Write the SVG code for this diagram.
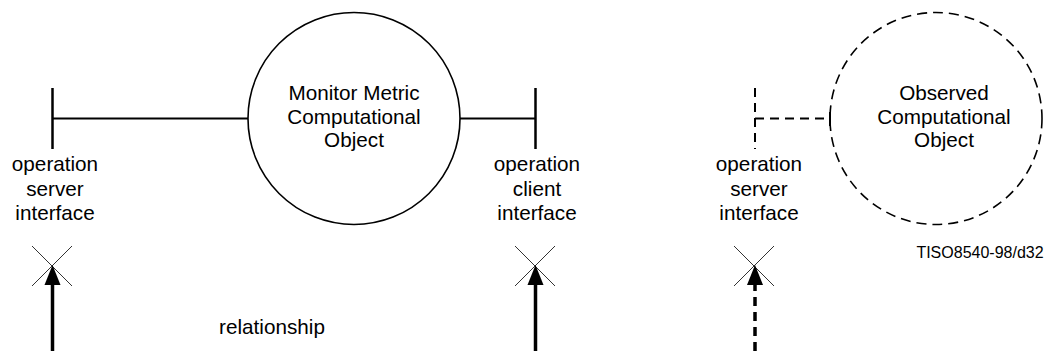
<svg xmlns="http://www.w3.org/2000/svg" width="1045" height="351" viewBox="0 0 1045 351">
<style>
text{font-family:"Liberation Sans",Arial,sans-serif;font-size:20.7px;fill:#000;text-anchor:middle}
.s{fill:none;stroke:#000;stroke-width:2}
.d{fill:none;stroke:#000;stroke-width:2;stroke-dasharray:9 6}
.x{stroke:#333;stroke-width:1}
.sh{stroke:#000;stroke-width:3.5}
</style>
<defs>
<marker id="ah" markerUnits="userSpaceOnUse" markerWidth="20" markerHeight="16" refX="0" refY="8" orient="auto" viewBox="0 0 20 16" overflow="visible">
<path d="M20,8 L0,0 L0,16 Z" fill="#000"/>
</marker>
</defs>
<g id="monitor">
<circle cx="354" cy="118.5" r="106" fill="#fff" stroke="#000" stroke-width="1.6"/>
<text x="354" y="100">Monitor Metric</text>
<text x="354" y="124">Computational</text>
<text x="354" y="147">Object</text>
</g>
<g id="observed">
<circle cx="936" cy="118.5" r="106" fill="none" stroke="#000" stroke-width="1.6" stroke-dasharray="10 6"/>
<text x="944" y="100">Observed</text>
<text x="944" y="124">Computational</text>
<text x="944" y="147">Object</text>
</g>
<g id="server1">
<line class="s" x1="52.5" y1="88" x2="52.5" y2="149" style="stroke-width:2.5"/>
<text x="55" y="171">operation</text>
<text x="55" y="196">server</text>
<text x="55" y="220">interface</text>
</g>
<g id="client">
<line class="s" x1="535.5" y1="88" x2="535.5" y2="149" style="stroke-width:2.5"/>
<text x="537" y="171">operation</text>
<text x="537" y="196">client</text>
<text x="537" y="220">interface</text>
</g>
<g id="server2">
<line class="d" x1="755" y1="88" x2="755" y2="149"/>
<text x="759" y="171">operation</text>
<text x="759" y="196">server</text>
<text x="759" y="220">interface</text>
</g>
<g id="marks">
<line class="x" x1="32" y1="246" x2="72" y2="286"/>
<line class="x" x1="72" y1="246" x2="32" y2="286"/>
<line class="x" x1="515" y1="246" x2="555" y2="286"/>
<line class="x" x1="555" y1="246" x2="515" y2="286"/>
<line class="x" x1="734" y1="246" x2="774" y2="286"/>
<line class="x" x1="774" y1="246" x2="734" y2="286"/>
</g>
<g id="connectors">
<line class="s" x1="52.5" y1="118.5" x2="248" y2="118.5"/>
<line class="s" x1="460" y1="118.5" x2="535.5" y2="118.5"/>
<line class="d" x1="755" y1="118.5" x2="830" y2="118.5"/>
<line class="s" x1="830" y1="112" x2="830" y2="126"/>
<line class="sh" x1="52.5" y1="351" x2="52.5" y2="285" marker-end="url(#ah)"/>
<line class="sh" x1="535.5" y1="351" x2="535.5" y2="285" marker-end="url(#ah)"/>
<line class="sh" x1="755" y1="351" x2="755" y2="285" stroke-dasharray="9 6" marker-end="url(#ah)"/>
</g>
<text x="272" y="334">relationship</text>
<text x="980" y="258" style="font-size:16px">TISO8540-98/d32</text>
</svg>
